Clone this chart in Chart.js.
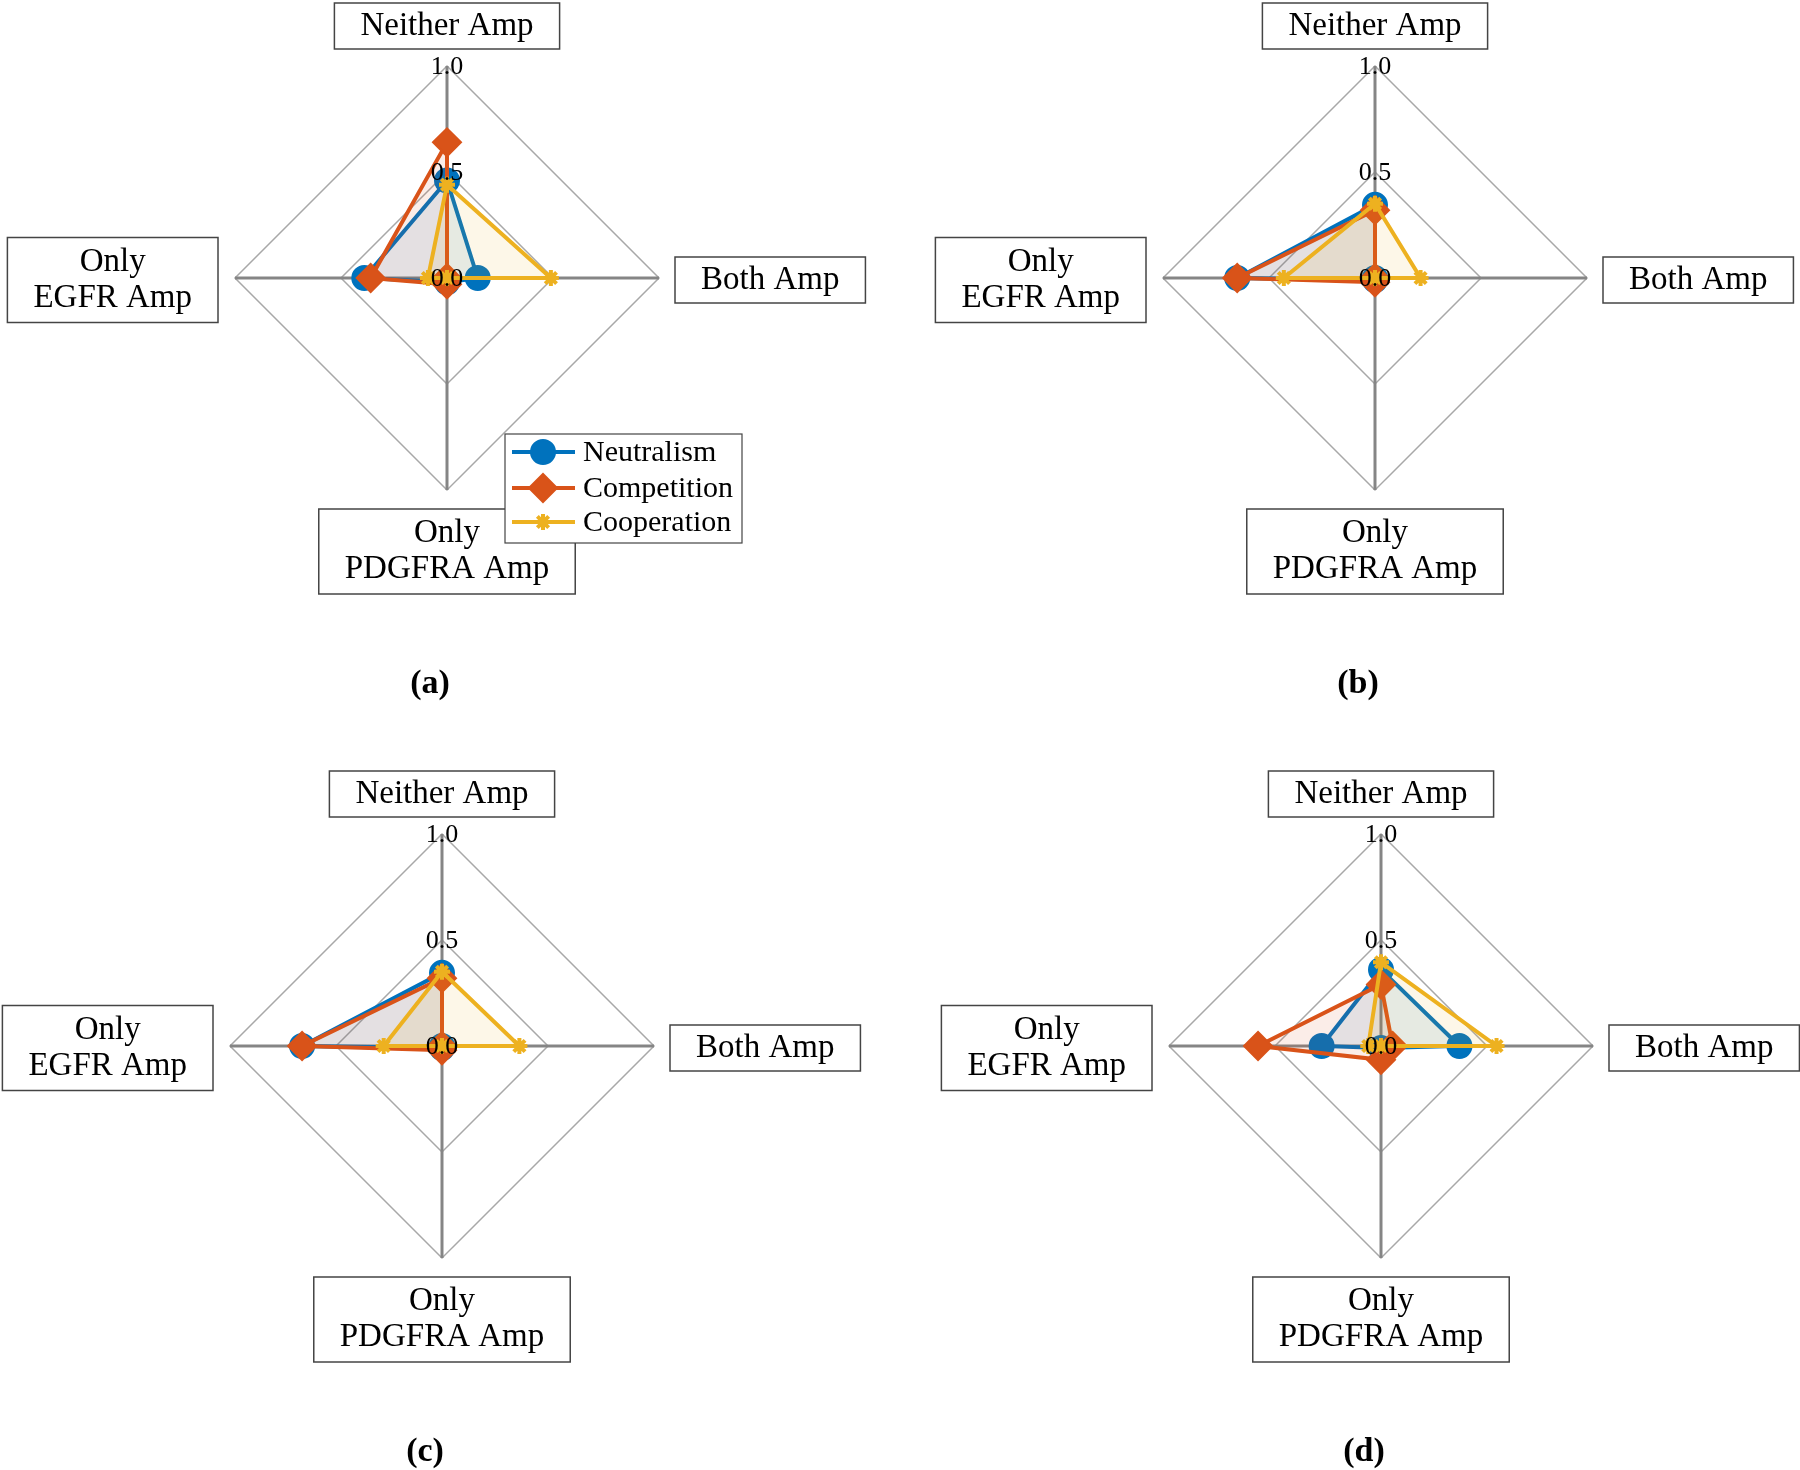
<!DOCTYPE html>
<html>
<head>
<meta charset="utf-8">
<script src="https://cdn.jsdelivr.net/npm/chart.js@4.4.1/dist/chart.umd.min.js"></script>
<style>
  body { margin: 0; background: #fff; }
  #wrap { position: relative; width: 1800px; height: 1470px; }
  canvas { position: absolute; }
</style>
</head>
<body>
<div id="wrap">
  <canvas id="chartA" width="900" height="735" style="left:0;top:0"></canvas>
  <canvas id="chartB" width="900" height="735" style="left:900px;top:0"></canvas>
  <canvas id="chartC" width="900" height="735" style="left:0;top:735px"></canvas>
  <canvas id="chartD" width="900" height="735" style="left:900px;top:735px"></canvas>
</div>
<script>
// axes go clockwise from the top
const axisLabels = [["Neither Amp"], ["Both Amp"], ["Only", "PDGFRA Amp"], ["Only", "EGFR Amp"]];
const seriesNames = ["Neutralism", "Competition", "Cooperation"];
const tickValues = [0, 0.5, 1];

// (a)
const neutralismA = [0.46, 0.145, 0.02, 0.39];
const competitionA = [0.64, 0, 0.03, 0.36];
const cooperationA = [0.44, 0.49, 0, 0.09];
// (b)
const neutralismB = [0.345, 0, 0.01, 0.65];
const competitionB = [0.32, 0, 0.02, 0.65];
const cooperationB = [0.35, 0.215, 0, 0.43];
// (c)
const neutralismC = [0.345, 0, 0.01, 0.66];
const competitionC = [0.32, 0, 0.02, 0.66];
const cooperationC = [0.35, 0.365, 0, 0.275];
// (d)
const neutralismD = [0.36, 0.37, 0.01, 0.28];
const competitionD = [0.29, 0.055, 0.065, 0.58];
const cooperationD = [0.395, 0.545, 0, 0.06];

const colors = ["#0072BD", "#D95319", "#EDB120"];
const fills = ["rgba(0,114,189,0.1)", "rgba(217,83,25,0.1)", "rgba(237,177,32,0.1)"];
const styles = ["circle", "rectRot", "star"];
const radii = [12, 14, 8];
const markerBorders = [2, 2, 4];

const serif = '"Liberation Serif", "Times New Roman", serif';

const decorPlugin = {
  id: "decor",
  afterDatasetsDraw(chart, args, opts) {
    const r = chart.scales.r;
    const ctx = chart.ctx;
    ctx.save();

    // tick labels on the vertical axis
    ctx.font = "26px " + serif;
    ctx.fillStyle = "#000";
    ctx.textAlign = "center";
    ctx.textBaseline = "middle";
    r.ticks.forEach(t => {
      const p = r.getPointPositionForValue(0, t.value);
      ctx.fillText(t.value.toFixed(1), p.x, p.y + 1);
    });

    // boxed axis labels
    ctx.font = "33px " + serif;
    chart.data.labels.forEach((lines, i) => {
      const p = r.getPointPositionForValue(i, r.max);
      const w = Math.max(...lines.map(s => ctx.measureText(s).width)) + 52;
      const h = lines.length * 39 + 7;
      let x, y;
      if (i === 0) { x = p.x - w / 2; y = p.y - 17 - h; }
      else if (i === 1) { x = p.x + 16; y = p.y + 2 - h / 2; }
      else if (i === 2) { x = p.x - w / 2; y = p.y + 19; }
      else { x = p.x - 17 - w; y = p.y + 2 - h / 2; }
      ctx.fillStyle = "#fff";
      ctx.fillRect(x, y, w, h);
      ctx.strokeStyle = "#444";
      ctx.lineWidth = 1.5;
      ctx.strokeRect(x, y, w, h);
      ctx.fillStyle = "#000";
      lines.forEach((s, k) => {
        ctx.fillText(s, x + w / 2, y + h / 2 + (k - (lines.length - 1) / 2) * 36);
      });
    });

    // legend
    if (opts.showLegend) {
      const lx = r.xCenter + 58, ly = r.yCenter + 156;
      ctx.fillStyle = "#fff";
      ctx.fillRect(lx, ly, 237, 109);
      ctx.strokeStyle = "#444";
      ctx.lineWidth = 1.2;
      ctx.strokeRect(lx, ly, 237, 109);
      const rowY = [18, 54, 88];
      chart.data.datasets.forEach((ds, k) => {
        const yy = ly + rowY[k];
        ctx.strokeStyle = colors[k];
        ctx.lineWidth = 4;
        ctx.beginPath();
        ctx.moveTo(lx + 7, yy);
        ctx.lineTo(lx + 70, yy);
        ctx.stroke();
        ctx.fillStyle = colors[k];
        ctx.strokeStyle = colors[k];
        ctx.lineWidth = markerBorders[k];
        Chart.helpers.drawPoint(ctx, { pointStyle: styles[k], radius: radii[k], borderWidth: markerBorders[k], rotation: 0 }, lx + 38, yy);
        ctx.fillStyle = "#000";
        ctx.font = "30px " + serif;
        ctx.textAlign = "left";
        ctx.fillText(ds.label, lx + 78, yy + 1);
      });
    }

    // panel letter
    ctx.font = "bold 34px " + serif;
    ctx.textAlign = "center";
    ctx.fillStyle = "#000";
    ctx.fillText(opts.letter, r.xCenter - 17, r.yCenter + 406);
    ctx.restore();
  }
};

function makeChart(id, values, pad, letter, showLegend) {
  return new Chart(document.getElementById(id), {
    type: "radar",
    data: {
      labels: axisLabels,
      datasets: seriesNames.map((name, k) => ({
        label: name,
        data: values[k],
        borderColor: colors[k],
        backgroundColor: fills[k],
        borderWidth: 4,
        fill: true,
        pointStyle: styles[k],
        pointRadius: radii[k],
        pointBorderWidth: markerBorders[k],
        pointBackgroundColor: colors[k],
        pointBorderColor: colors[k],
        order: 3 - k
      }))
    },
    options: {
      responsive: false,
      devicePixelRatio: 1,
      animation: false,
      layout: { padding: pad },
      elements: { line: { tension: 0 } },
      plugins: {
        legend: { display: false },
        tooltip: { enabled: false },
        decor: { letter: letter, showLegend: showLegend }
      },
      scales: {
        r: {
          min: tickValues[0],
          max: tickValues[tickValues.length - 1],
          ticks: { stepSize: tickValues[1] - tickValues[0], display: false },
          pointLabels: { display: false },
          grid: { circular: false, color: "#a8a8a8", lineWidth: 1.5 },
          angleLines: { color: "#858585", lineWidth: 3 }
        }
      }
    },
    plugins: [decorPlugin]
  });
}

makeChart("chartA", [neutralismA, competitionA, cooperationA], { left: 235, right: 241, top: 66, bottom: 245 }, "(a)", true);
makeChart("chartB", [neutralismB, competitionB, cooperationB], { left: 263, right: 213, top: 66, bottom: 245 }, "(b)", false);
makeChart("chartC", [neutralismC, competitionC, cooperationC], { left: 230, right: 246, top: 99, bottom: 212 }, "(c)", false);
makeChart("chartD", [neutralismD, competitionD, cooperationD], { left: 269, right: 207, top: 99, bottom: 212 }, "(d)", false);
</script>
</body>
</html>
